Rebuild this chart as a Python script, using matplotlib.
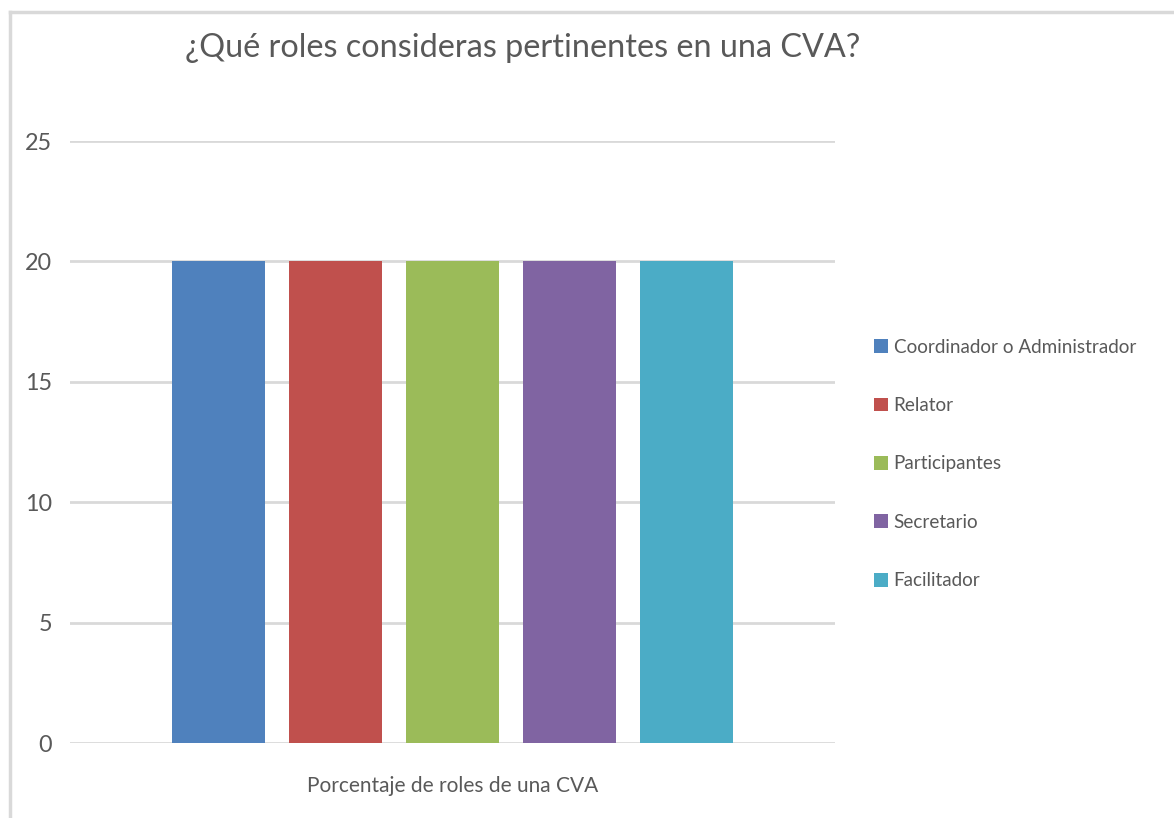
import matplotlib
matplotlib.use("Agg")
import matplotlib.pyplot as plt
from matplotlib.patches import Patch

# data
roles = ["Coordinador o Administrador", "Relator", "Participantes", "Secretario", "Facilitador"]
valores = [20, 20, 20, 20, 20]
colores = ["#4f81bd", "#c0504d", "#9bbb59", "#8064a2", "#4bacc6"]
yticks = [0, 5, 10, 15, 20, 25]
titulo = "¿Qué roles consideras pertinentes en una CVA?"
etiqueta_x = "Porcentaje de roles de una CVA"

plt.rcParams['font.family'] = ["Lato", "DejaVu Sans"]
gris = "#595959"

fig = plt.figure(figsize=(11.74, 8.18), dpi=100)
renderer = fig.canvas.get_renderer()


def fit_size(text, target_px, base=20):
    # pick a font size so the text is about target_px wide
    t = fig.text(0, 0, text, fontsize=base)
    w = t.get_window_extent(renderer).width
    t.remove()
    return base * target_px / w


size_title = fit_size(titulo, 677)
size_leg = fit_size(roles[0], 242)
size_xl = fit_size(etiqueta_x, 291)
size_tick = fit_size("25", 27)

ax = fig.add_axes([70/1174, 75/818, 765/1174, 602/818])

x = list(range(len(roles)))
ax.bar(x, valores, width=0.793, color=colores, zorder=3)
ax.set_xlim(-1.266, len(roles) - 1 + 1.266)
ax.set_ylim(0, 25)
ax.set_yticks(yticks)
ax.set_yticklabels([str(v) for v in yticks], fontsize=size_tick, color=gris)
ax.tick_params(axis='y', length=0, pad=13)
ax.set_xticks([])
ax.grid(axis='y', color="#d9d9d9", linewidth=2, zorder=0)
for s in ax.spines.values():
    s.set_visible(False)

fig.text(453/1174, 1 - 786/818, etiqueta_x, ha='center', va='center', fontsize=size_xl, color=gris)
fig.text(523/1174, 1 - 48/818, titulo, ha='center', va='center', fontsize=size_title, color=gris)

handles = [Patch(facecolor=c, label=r) for c, r in zip(colores, roles)]
fig.legend(handles=handles, loc='center left', bbox_to_anchor=(857/1174, 1 - 464/818),
           frameon=False, fontsize=size_leg, labelcolor=gris, handlelength=0.75, handleheight=0.75,
           handletextpad=0.3, labelspacing=2.2)

# chart border (top and left edges visible)
fig.add_artist(plt.Line2D([10/1174, 1], [1 - 12/818, 1 - 12/818], color="#d9d9d9", linewidth=2.5))
fig.add_artist(plt.Line2D([10/1174, 10/1174], [0, 1 - 12/818], color="#d9d9d9", linewidth=2.5))

fig.savefig("out.png", dpi=100, facecolor="white")
